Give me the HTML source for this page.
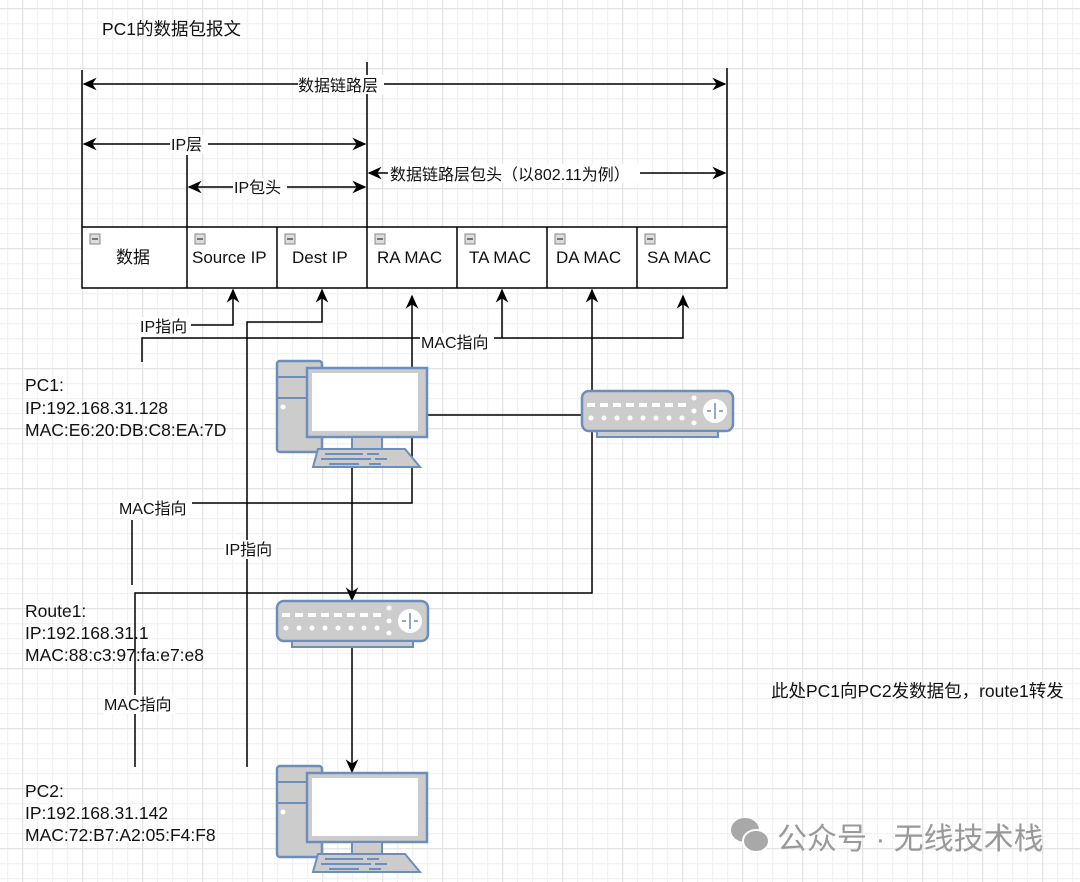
<!DOCTYPE html>
<html><head><meta charset="utf-8"><style>
html,body{margin:0;padding:0;background:#fff}
svg{display:block}
text{font-family:"Liberation Sans","Noto Sans CJK SC",sans-serif;fill:#111}
</style></head><body>
<svg width="1080" height="882" viewBox="0 0 1080 882" xmlns="http://www.w3.org/2000/svg">
<defs>
<pattern id="minor" x="22" y="8" width="15" height="15" patternUnits="userSpaceOnUse">
<path d="M0 0.5H15M0.5 0V15" stroke="#f2f2f2" stroke-width="1.5" fill="none"/>
</pattern>
<pattern id="major" x="22" y="8" width="60" height="60" patternUnits="userSpaceOnUse">
<path d="M0 0.5H60M0.5 0V60" stroke="#e4e4e4" stroke-width="1.5" fill="none"/>
</pattern>
<marker id="ar" viewBox="0 0 10 10" refX="9" refY="5" markerWidth="14" markerHeight="14" markerUnits="userSpaceOnUse" orient="auto-start-reverse">
<path d="M0,0.5 L10,5 L0,9.5 L3,5 Z" fill="#000"/>
</marker>
<g id="pc">
<rect x="0" y="1" width="45" height="91" rx="3" fill="#ccc" stroke="#6c8ebf" stroke-width="2.5"/>
<line x1="0" y1="17" x2="45" y2="17" stroke="#6c8ebf" stroke-width="2"/>
<line x1="0" y1="38" x2="45" y2="38" stroke="#6c8ebf" stroke-width="2"/>
<circle cx="6" cy="47" r="2.5" fill="#fff"/>
<rect x="30" y="8" width="120" height="69" fill="#ccc" stroke="#6c8ebf" stroke-width="2.5"/>
<rect x="35" y="13" width="106" height="58" fill="#fff"/>
<rect x="75" y="77" width="30" height="12" fill="#ccc" stroke="#6c8ebf" stroke-width="2"/>
<polygon points="41,89 128,89 143,107 36,107" fill="#ccc" stroke="#6c8ebf" stroke-width="2"/>
<path d="M48,94h38M90,94h12M44,99h50M98,99h12M52,104h30M92,104h12" stroke="#6c8ebf" stroke-width="2"/>
</g>
<g id="rt">
<rect x="0" y="1" width="151" height="40" rx="7" fill="#ccc" stroke="#6c8ebf" stroke-width="2.5"/>
<rect x="15" y="41" width="121" height="6" fill="#ccc" stroke="#6c8ebf" stroke-width="2"/>
<g fill="#fff">
<rect x="5" y="13" width="8" height="4"/><rect x="18" y="13" width="8" height="4"/><rect x="31" y="13" width="8" height="4"/><rect x="44" y="13" width="8" height="4"/><rect x="57" y="13" width="8" height="4"/><rect x="70" y="13" width="8" height="4"/><rect x="83" y="13" width="8" height="4"/><rect x="96" y="13" width="8" height="4"/>
<circle cx="9" cy="28" r="2.5"/><circle cx="22" cy="28" r="2.5"/><circle cx="35" cy="28" r="2.5"/><circle cx="48" cy="28" r="2.5"/><circle cx="61" cy="28" r="2.5"/><circle cx="74" cy="28" r="2.5"/><circle cx="87" cy="28" r="2.5"/><circle cx="100" cy="28" r="2.5"/>
<circle cx="112" cy="8" r="2.5"/><circle cx="112" cy="21" r="2.5"/><circle cx="112" cy="33" r="2.5"/>
<circle cx="133" cy="21" r="12"/>
</g>
<path d="M133,13v16M125,21h4M137,21h4" stroke="#6c8ebf" stroke-width="1.5"/>
</g>
</defs>
<rect width="1080" height="882" fill="#fff"/>
<rect width="1080" height="882" fill="url(#minor)"/>
<rect width="1080" height="882" fill="url(#major)"/>

<text x="102" y="35" font-size="17.5">PC1的数据包报文</text>

<g stroke="#000" stroke-width="1.5" fill="none">
<line x1="82" y1="70" x2="82" y2="227"/>
<line x1="727" y1="68" x2="727" y2="227"/>
<line x1="367" y1="62" x2="367" y2="227"/>
<line x1="187" y1="155" x2="187" y2="227"/>
<line x1="84" y1="84" x2="725" y2="84" marker-start="url(#ar)" marker-end="url(#ar)"/>
<line x1="84" y1="144" x2="365" y2="144" marker-start="url(#ar)" marker-end="url(#ar)"/>
<line x1="189" y1="187" x2="365" y2="187" marker-start="url(#ar)" marker-end="url(#ar)"/>
<line x1="369" y1="173" x2="725" y2="173" marker-start="url(#ar)" marker-end="url(#ar)"/>
</g>
<rect x="298" y="75" width="86" height="19" fill="#fff"/>
<text x="298" y="91" font-size="16">数据链路层</text>
<rect x="170" y="135" width="38" height="19" fill="#fff"/>
<text x="171" y="150" font-size="16">IP层</text>
<rect x="233" y="178" width="54" height="19" fill="#fff"/>
<text x="234" y="193" font-size="16">IP包头</text>
<rect x="388" y="164" width="252" height="19" fill="#fff"/>
<text x="390" y="180" font-size="16">数据链路层包头（以802.11为例）</text>

<rect x="82" y="227" width="645" height="61" fill="#fff" stroke="#000" stroke-width="1.5"/>
<g stroke="#000" stroke-width="1.5">
<line x1="187" y1="227" x2="187" y2="288"/><line x1="277" y1="227" x2="277" y2="288"/>
<line x1="367" y1="227" x2="367" y2="288"/><line x1="457" y1="227" x2="457" y2="288"/>
<line x1="547" y1="227" x2="547" y2="288"/><line x1="637" y1="227" x2="637" y2="288"/>
</g>
<g fill="#ddd" stroke="#888" stroke-width="1">
<rect x="90" y="234" width="10" height="10"/><rect x="195" y="234" width="10" height="10"/><rect x="285" y="234" width="10" height="10"/><rect x="375" y="234" width="10" height="10"/><rect x="465" y="234" width="10" height="10"/><rect x="555" y="234" width="10" height="10"/><rect x="645" y="234" width="10" height="10"/>
</g>
<g stroke="#555" stroke-width="1.5">
<path d="M92,239h6M197,239h6M287,239h6M377,239h6M467,239h6M557,239h6M647,239h6"/>
</g>
<g font-size="17">
<text x="116" y="263">数据</text>
<text x="192" y="263">Source IP</text>
<text x="292" y="263">Dest IP</text>
<text x="377" y="263">RA MAC</text>
<text x="469" y="263">TA MAC</text>
<text x="556" y="263">DA MAC</text>
<text x="647" y="263">SA MAC</text>
</g>

<g stroke="#000" stroke-width="1.5" fill="none">
<polyline points="188,325 233,325 233,290" marker-end="url(#ar)"/>
<polyline points="142,362 142,338 683,338 683,296" marker-end="url(#ar)"/>
<polyline points="502,338 502,290" marker-end="url(#ar)"/>
<polyline points="247,767 247,322 322,322 322,290" marker-end="url(#ar)"/>
<polyline points="132,585 132,520"/>
<polyline points="190,503 412,503 412,296" marker-end="url(#ar)"/>
<polyline points="135,767 135,593 592,593 592,290" marker-end="url(#ar)"/>
<line x1="428" y1="415" x2="583" y2="415"/>
<line x1="352" y1="467" x2="352" y2="600" marker-end="url(#ar)"/>
<line x1="352" y1="647" x2="352" y2="772" marker-end="url(#ar)"/>
</g>
<g font-size="16">
<rect x="139" y="317" width="52" height="19" fill="#fff"/><text x="140" y="332">IP指向</text>
<rect x="420" y="333" width="74" height="19" fill="#fff"/><text x="421" y="348">MAC指向</text>
<rect x="118" y="499" width="74" height="19" fill="#fff"/><text x="119" y="514">MAC指向</text>
<rect x="224" y="540" width="52" height="19" fill="#fff"/><text x="225" y="555">IP指向</text>
<rect x="103" y="695" width="74" height="19" fill="#fff"/><text x="104" y="710">MAC指向</text>
</g>

<use href="#pc" x="277" y="360"/>
<use href="#rt" x="582" y="390"/>
<use href="#rt" x="277" y="600"/>
<use href="#pc" x="277" y="765"/>

<g font-size="17.5">
<text x="25" y="391">PC1:</text>
<text x="25" y="414">IP:192.168.31.128</text>
<text x="25" y="436">MAC:E6:20:DB:C8:EA:7D</text>
<text x="25" y="617">Route1:</text>
<text x="25" y="639">IP:192.168.31.1</text>
<text x="25" y="661">MAC:88:c3:97:fa:e7:e8</text>
<text x="25" y="797">PC2:</text>
<text x="25" y="819">IP:192.168.31.142</text>
<text x="25" y="841">MAC:72:B7:A2:05:F4:F8</text>
</g>
<text x="771" y="697" font-size="17.5">此处PC1向PC2发数据包，route1转发</text>

<g fill="#a8a8a8">
<ellipse cx="745" cy="830" rx="14" ry="12"/>
<ellipse cx="756" cy="841" rx="13" ry="11" stroke="#fff" stroke-width="2"/>
</g>
<text x="777" y="849" font-size="30" style="fill:#999">公众号 · 无线技术栈</text>
</svg>
</body></html>
